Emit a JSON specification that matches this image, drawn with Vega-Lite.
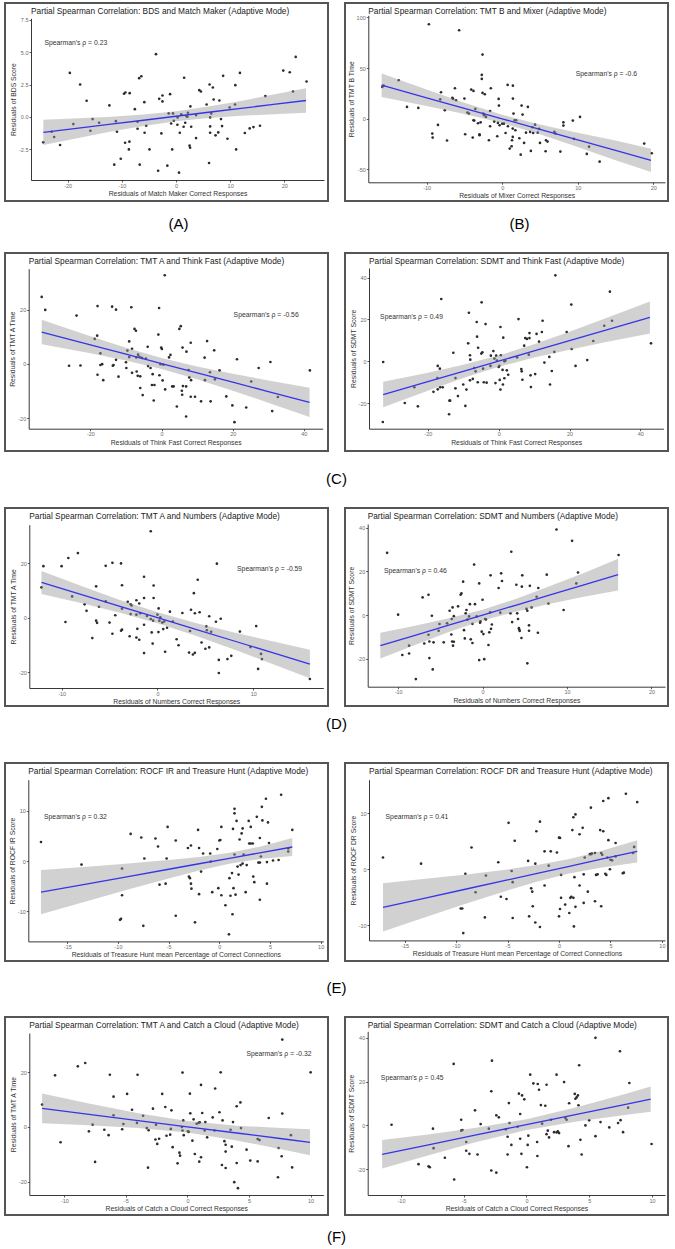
{
"$schema": "https://vega.github.io/schema/vega-lite/v6.json",
"padding": {"left": 4, "top": 2, "right": 0, "bottom": 0},
"background": "white",
"spacing": 20,
"config": {
 "view": {"stroke": "#555555", "strokeWidth": 2},
 "font": "Liberation Sans",
 "axis": {"grid": false, "domainColor": "#222222", "domainWidth": 0.9, "tickColor": "#333333", "tickWidth": 0.8, "tickSize": 2, "labelFont": "Liberation Sans", "labelFontSize": 5.5, "labelColor": "#6b6b6b", "labelPadding": 1, "labelFlush": false, "labelOverlap": false, "labelBound": false, "titleFont": "Liberation Sans", "titleFontSize": 6.8, "titleFontWeight": "normal", "titleColor": "#333333", "titlePadding": 2},
 "title": {"font": "Liberation Sans", "fontWeight": "normal", "color": "#222222"},
 "locale": {"number": {"decimal": ".", "thousands": ",", "grouping": [3], "currency": ["$", ""], "minus": "-"}}
},
"datasets": {
 "A": [{"x":-24.5,"y":-1.98},{"x":-22.95,"y":-1.16},{"x":-22.5,"y":-1.57},{"x":-21.4,"y":-2.19},{"x":-19.6,"y":3.4},{"x":-18.95,"y":-0.57},{"x":-17.7,"y":2.5},{"x":-16.5,"y":1.24},{"x":-15.8,"y":-1.08},{"x":-15.4,"y":-0.18},{"x":-14.2,"y":-0.46},{"x":-12.3,"y":0.88},{"x":-11.4,"y":-3.71},{"x":-11.1,"y":-0.34},{"x":-10.9,"y":-1.16},{"x":-10.2,"y":-3.25},{"x":-9.6,"y":1.78},{"x":-9.35,"y":1.88},{"x":-9.4,"y":-2.01},{"x":-8.6,"y":-1.93},{"x":-8.55,"y":1.83},{"x":-8.7,"y":-2.53},{"x":-7.6,"y":0.59},{"x":-7.1,"y":-0.39},{"x":-7.1,"y":-0.93},{"x":-6.8,"y":2.99},{"x":-6.4,"y":3.14},{"x":-6.7,"y":-3.71},{"x":-5.85,"y":1.13},{"x":-5.8,"y":-1.24},{"x":-5.5,"y":-0.7},{"x":-4.9,"y":-2.53},{"x":-3.7,"y":4.85},{"x":-3.3,"y":-4.18},{"x":-3.1,"y":1.39},{"x":-2.7,"y":-1.29},{"x":-2.5,"y":1.65},{"x":-2.5,"y":1.19},{"x":-1.6,"y":-3.79},{"x":-1.1,"y":1.75},{"x":-1.35,"y":0.26},{"x":-0.9,"y":-0.52},{"x":-0.7,"y":-2.53},{"x":-0.55,"y":0.26},{"x":-0.4,"y":-0.31},{"x":0.25,"y":-0.62},{"x":0.3,"y":-0.05},{"x":0.55,"y":-4.33},{"x":0.7,"y":-1.24},{"x":0.98,"y":0.18},{"x":1.4,"y":-0.77},{"x":1.5,"y":3.02},{"x":1.7,"y":-0.46},{"x":1.9,"y":0.05},{"x":2.1,"y":0},{"x":2.2,"y":0.31},{"x":2.5,"y":-2.24},{"x":2.6,"y":-2.4},{"x":2.65,"y":0.8},{"x":2.8,"y":-0.77},{"x":3.7,"y":0.13},{"x":3.7,"y":-1.65},{"x":4.3,"y":2.06},{"x":4.6,"y":1.96},{"x":5.65,"y":0.95},{"x":6.1,"y":-3.58},{"x":6.2,"y":2.5},{"x":6.3,"y":-0.05},{"x":6.3,"y":-0.75},{"x":6.3,"y":-1.24},{"x":6.5,"y":0.26},{"x":6.8,"y":2.27},{"x":6.95,"y":1.34},{"x":7.3,"y":-1.44},{"x":7.8,"y":-1.21},{"x":8.0,"y":1.26},{"x":8.3,"y":-0.18},{"x":8.5,"y":-0.72},{"x":8.7,"y":3.17},{"x":9.5,"y":-1.7},{"x":9.9,"y":0.72},{"x":10.9,"y":0.95},{"x":10.95,"y":2.45},{"x":11.1,"y":-2.53},{"x":11.8,"y":3.4},{"x":12.7,"y":-1.26},{"x":13.6,"y":-0.9},{"x":14.3,"y":-0.8},{"x":15.5,"y":-0.7},{"x":16.5,"y":1.6},{"x":19.8,"y":3.58},{"x":21.0,"y":3.45},{"x":21.6,"y":1.96},{"x":22.1,"y":4.64},{"x":24.1,"y":2.73}],
 "Aband": [{"x":-24.5,"lo":-2.18,"hi":-0.24,"fit":-1.21},{"x":-18,"lo":-1.64,"hi":-0.12,"fit":-0.88},{"x":-12,"lo":-1.15,"hi":0.01,"fit":-0.57},{"x":-6,"lo":-0.71,"hi":0.17,"fit":-0.27},{"x":0,"lo":-0.34,"hi":0.42,"fit":0.04},{"x":6,"lo":-0.09,"hi":0.79,"fit":0.35},{"x":12,"lo":0.07,"hi":1.23,"fit":0.65},{"x":18,"lo":0.2,"hi":1.72,"fit":0.96},{"x":24,"lo":0.31,"hi":2.21,"fit":1.26}],
 "B": [{"x":-15.87,"y":31.4},{"x":-15.7,"y":32.7},{"x":-13.7,"y":38.0},{"x":-12.6,"y":11.7},{"x":-11.1,"y":10.7},{"x":-9.7,"y":93.3},{"x":-9.25,"y":-14.6},{"x":-9.2,"y":-18.6},{"x":-8.5,"y":-6.1},{"x":-8.1,"y":26.2},{"x":-8.2,"y":19.2},{"x":-7.6,"y":8.4},{"x":-7.3,"y":-21.5},{"x":-6.6,"y":20.6},{"x":-6.5,"y":19.6},{"x":-6.25,"y":30.1},{"x":-6.1,"y":18.3},{"x":-5.7,"y":87.3},{"x":-5.0,"y":19.9},{"x":-4.9,"y":-15.3},{"x":-4.6,"y":6.1},{"x":-4.4,"y":5.1},{"x":-4.1,"y":28.8},{"x":-3.8,"y":27.5},{"x":-3.9,"y":-18.6},{"x":-3.8,"y":-1.5},{"x":-3.7,"y":-1.8},{"x":-3.55,"y":9.7},{"x":-3.2,"y":-4.4},{"x":-3.0,"y":-15.3},{"x":-3.0,"y":-16.3},{"x":-2.85,"y":-3.5},{"x":-2.7,"y":39.3},{"x":-2.7,"y":43.3},{"x":-2.6,"y":63.3},{"x":-2.6,"y":25.5},{"x":-2.5,"y":5.1},{"x":-2.4,"y":3.5},{"x":-2.3,"y":24.2},{"x":-2.15,"y":1.8},{"x":-1.75,"y":-21.2},{"x":-1.6,"y":-7.4},{"x":-1.5,"y":30.1},{"x":-1.6,"y":7.7},{"x":-1.05,"y":-2.8},{"x":-0.65,"y":-17.3},{"x":-0.56,"y":-4.1},{"x":-0.47,"y":19.6},{"x":-0.43,"y":13.0},{"x":-0.34,"y":-6.4},{"x":0.01,"y":-4.8},{"x":0.23,"y":-4.8},{"x":0.45,"y":-14.0},{"x":0.72,"y":33.4},{"x":0.76,"y":-7.4},{"x":1.0,"y":-29.4},{"x":1.25,"y":-27.1},{"x":1.3,"y":-21.2},{"x":1.4,"y":-17.9},{"x":1.42,"y":32.7},{"x":1.42,"y":19.9},{"x":1.4,"y":-9.7},{"x":1.5,"y":5.1},{"x":1.65,"y":-1.5},{"x":1.75,"y":-11.3},{"x":1.85,"y":-1.5},{"x":2.27,"y":-19.2},{"x":2.45,"y":-35.4},{"x":2.57,"y":13.0},{"x":2.7,"y":4.1},{"x":2.9,"y":-23.8},{"x":3.15,"y":-13.7},{"x":3.4,"y":11.7},{"x":3.7,"y":-13.0},{"x":3.8,"y":-31.7},{"x":4.0,"y":-8.4},{"x":4.1,"y":-14.0},{"x":4.35,"y":-5.8},{"x":4.7,"y":-13.7},{"x":4.9,"y":-10.0},{"x":5.0,"y":-23.8},{"x":5.75,"y":-32.1},{"x":5.8,"y":-21.2},{"x":6.0,"y":-22.5},{"x":6.9,"y":-13.0},{"x":7.05,"y":-14.6},{"x":7.7,"y":-32.4},{"x":8.1,"y":-3.5},{"x":8.1,"y":-6.7},{"x":9.35,"y":-1.8},{"x":9.5,"y":-19.9},{"x":10.3,"y":1.8},{"x":11.2,"y":-34.7},{"x":11.5,"y":-27.5},{"x":12.9,"y":-42.3},{"x":18.8,"y":-24.5},{"x":19.8,"y":-34.0}],
 "Bband": [{"x":-15.95,"lo":21.6,"hi":44.6,"fit":33.1},{"x":-10,"lo":12.7,"hi":28.8,"fit":20.73},{"x":-5,"lo":4.8,"hi":15.9,"fit":10.34},{"x":0,"lo":-4.1,"hi":4.0,"fit":-0.06},{"x":5,"lo":-15.2,"hi":-5.7,"fit":-10.45},{"x":10,"lo":-27.8,"hi":-13.9,"fit":-20.85},{"x":15,"lo":-41.0,"hi":-21.5,"fit":-31.24},{"x":19.7,"lo":-52.5,"hi":-29.5,"fit":-41.0}],
 "C1": [{"x":-33.7,"y":24.7},{"x":-32.7,"y":19.9},{"x":-26.0,"y":-0.7},{"x":-23.9,"y":17.8},{"x":-22.8,"y":-0.6},{"x":-18.8,"y":9.2},{"x":-18.1,"y":10.4},{"x":-18.0,"y":21.3},{"x":-18.0,"y":-4.0},{"x":-17.2,"y":3.9},{"x":-17.2,"y":-0.4},{"x":-16.7,"y":-0.1},{"x":-16.4,"y":-6.0},{"x":-13.9,"y":21.1},{"x":-13.7,"y":-0.7},{"x":-13.5,"y":-0.4},{"x":-12.8,"y":20.0},{"x":-12.8,"y":1.5},{"x":-12.1,"y":-4.7},{"x":-10.0,"y":0.6},{"x":-9.9,"y":-1.5},{"x":-9.6,"y":4.9},{"x":-9.1,"y":8.3},{"x":-9.1,"y":2.5},{"x":-8.5,"y":20.9},{"x":-8.3,"y":5.6},{"x":-8.3,"y":-3.3},{"x":-7.6,"y":12.9},{"x":-7.2,"y":12.2},{"x":-7.1,"y":2.4},{"x":-7.0,"y":-2.8},{"x":-6.7,"y":-4.4},{"x":-6.6,"y":3.4},{"x":-6.2,"y":2.6},{"x":-6.0,"y":-4.6},{"x":-6.0,"y":-8.9},{"x":-5.5,"y":2.2},{"x":-5.3,"y":-11.5},{"x":-4.4,"y":2.0},{"x":-3.9,"y":6.3},{"x":-3.8,"y":-0.8},{"x":-3.1,"y":-1.5},{"x":-2.7,"y":-7.8},{"x":-2.5,"y":-3.8},{"x":-2.0,"y":-7.8},{"x":-2.2,"y":-13.5},{"x":-0.9,"y":10.8},{"x":-0.7,"y":20.6},{"x":-0.6,"y":-4.2},{"x":-0.3,"y":-0.1},{"x":-0.1,"y":6.0},{"x":0.1,"y":5.5},{"x":0.3,"y":-6.1},{"x":0.5,"y":-0.3},{"x":0.9,"y":32.7},{"x":1.0,"y":-9.4},{"x":2.1,"y":2.4},{"x":2.5,"y":3.3},{"x":3.0,"y":-8.3},{"x":3.4,"y":-8.3},{"x":4.3,"y":-15.7},{"x":5.0,"y":12.9},{"x":5.4,"y":13.9},{"x":5.7,"y":-9.9},{"x":5.8,"y":-11.4},{"x":5.9,"y":6.0},{"x":6.0,"y":-8.2},{"x":6.9,"y":-8.3},{"x":7.0,"y":4.5},{"x":6.9,"y":-19.4},{"x":7.6,"y":-2.3},{"x":7.8,"y":-5.0},{"x":8.2,"y":7.8},{"x":8.2,"y":-12.1},{"x":8.3,"y":-6.0},{"x":9.4,"y":-12.1},{"x":11.1,"y":-13.8},{"x":12.1,"y":2.3},{"x":12.2,"y":-6.0},{"x":12.8,"y":8.4},{"x":13.6,"y":-3.1},{"x":13.8,"y":-13.8},{"x":14.8,"y":5.0},{"x":15.0,"y":-5.7},{"x":16.3,"y":-2.4},{"x":18.2,"y":-12.0},{"x":19.9,"y":-15.3},{"x":20.5,"y":-21.5},{"x":21.2,"y":1.7},{"x":23.8,"y":-16.1},{"x":25.2,"y":-6.5},{"x":27.3,"y":-1.5},{"x":30.6,"y":0.7},{"x":31.1,"y":-17.4},{"x":32.7,"y":-12.2},{"x":41.7,"y":-2.4}],
 "C1band": [{"x":-33.7,"lo":7.25,"hi":16.25,"fit":11.75},{"x":-20,"lo":3.91,"hi":10.15,"fit":7.03},{"x":-10,"lo":1.25,"hi":5.91,"fit":3.58},{"x":0,"lo":-1.86,"hi":2.14,"fit":0.14},{"x":10,"lo":-5.64,"hi":-0.98,"fit":-3.31},{"x":20,"lo":-9.87,"hi":-3.63,"fit":-6.75},{"x":30,"lo":-14.31,"hi":-6.09,"fit":-10.2},{"x":41.6,"lo":-19.56,"hi":-8.84,"fit":-14.2}],
 "C2": [{"x":-32.6,"y":-0.3},{"x":-32.7,"y":-29.0},{"x":-26.5,"y":-19.9},{"x":-23.8,"y":-12.4},{"x":-22.8,"y":-21.5},{"x":-18.4,"y":-14.6},{"x":-17.3,"y":-8.0},{"x":-17.2,"y":-2.2},{"x":-17.2,"y":-13.4},{"x":-16.6,"y":-3.5},{"x":-16.5,"y":-12.4},{"x":-16.2,"y":29.8},{"x":-15.8,"y":-12.4},{"x":-13.9,"y":-18.8},{"x":-13.7,"y":-18.8},{"x":-14.0,"y":-25.3},{"x":-12.8,"y":4.1},{"x":-12.2,"y":-12.9},{"x":-12.2,"y":-8.0},{"x":-11.5,"y":-16.6},{"x":-10.0,"y":-11.1},{"x":-9.4,"y":-21.3},{"x":-9.1,"y":-13.5},{"x":-8.6,"y":8.6},{"x":-8.4,"y":23.2},{"x":-8.1,"y":-9.1},{"x":-8.1,"y":2.9},{"x":-8.0,"y":0.8},{"x":-7.3,"y":-8.4},{"x":-6.9,"y":-3.2},{"x":-6.5,"y":-4.8},{"x":-6.2,"y":18.8},{"x":-6.1,"y":11.8},{"x":-5.8,"y":6.5},{"x":-5.9,"y":-10.0},{"x":-4.9,"y":3.7},{"x":-4.8,"y":28.2},{"x":-4.6,"y":4.3},{"x":-4.4,"y":-3.5},{"x":-4.2,"y":-10.0},{"x":-3.7,"y":17.8},{"x":-3.4,"y":-10.2},{"x":-2.3,"y":-2.2},{"x":-2.2,"y":2.7},{"x":-1.5,"y":4.9},{"x":-1.2,"y":1.3},{"x":-0.9,"y":-10.4},{"x":-0.7,"y":2.7},{"x":-0.5,"y":0.3},{"x":0,"y":-2.7},{"x":0.2,"y":-2.1},{"x":0.3,"y":-8.9},{"x":0.5,"y":16.4},{"x":0.5,"y":-13.5},{"x":0.6,"y":2.9},{"x":1.1,"y":-4.1},{"x":1.2,"y":-11.1},{"x":1.3,"y":11.3},{"x":1.6,"y":0},{"x":1.6,"y":-8.1},{"x":1.9,"y":0.3},{"x":2.3,"y":-4.3},{"x":2.7,"y":-6.4},{"x":5.2,"y":1.9},{"x":5.6,"y":20.2},{"x":6.4,"y":-3.7},{"x":6.5,"y":-4.8},{"x":6.7,"y":-8.8},{"x":7.2,"y":7.5},{"x":7.5,"y":11.1},{"x":8.0,"y":10.7},{"x":8.5,"y":3.2},{"x":8.7,"y":13.5},{"x":8.7,"y":11.1},{"x":9.0,"y":-6.7},{"x":9.1,"y":-12.3},{"x":10.3,"y":-6.1},{"x":10.7,"y":13.1},{"x":11.4,"y":9.4},{"x":12.2,"y":14.0},{"x":12.4,"y":19.4},{"x":12.9,"y":-0.6},{"x":14.5,"y":-11.1},{"x":14.3,"y":2.1},{"x":15.0,"y":-4.6},{"x":15.7,"y":4.5},{"x":16.0,"y":41.1},{"x":19.2,"y":14.0},{"x":20.5,"y":27.1},{"x":20.6,"y":5.9},{"x":21.7,"y":-2.2},{"x":25.0,"y":0.6},{"x":26.7,"y":9.7},{"x":29.8,"y":17.0},{"x":31.4,"y":33.3},{"x":32.0,"y":19.4},{"x":43.0,"y":8.6}],
 "C2band": [{"x":-32.6,"lo":-22.0,"hi":-9.8,"fit":-15.9},{"x":-20,"lo":-14.04,"hi":-5.42,"fit":-9.73},{"x":-10,"lo":-8.01,"hi":-1.65,"fit":-4.83},{"x":0,"lo":-2.63,"hi":2.77,"fit":0.07},{"x":10,"lo":1.79,"hi":8.15,"fit":4.97},{"x":20,"lo":5.56,"hi":14.18,"fit":9.87},{"x":30,"lo":9.06,"hi":20.48,"fit":14.77},{"x":42.7,"lo":13.35,"hi":28.65,"fit":21.0}],
 "D1": [{"x":-12.1,"y":11.2},{"x":-11.9,"y":19.0},{"x":-10.0,"y":19.0},{"x":-9.6,"y":-1.5},{"x":-9.3,"y":22.0},{"x":-8.9,"y":7.9},{"x":-8.3,"y":23.8},{"x":-7.6,"y":5.0},{"x":-7.4,"y":2.6},{"x":-6.8,"y":-7.4},{"x":-6.4,"y":11.6},{"x":-6.4,"y":-1.0},{"x":-6.3,"y":-1.8},{"x":-6.1,"y":4.1},{"x":-5.4,"y":19.1},{"x":-5.4,"y":6.1},{"x":-5.0,"y":-1.7},{"x":-4.7,"y":20.2},{"x":-4.7,"y":-5.8},{"x":-4.4,"y":1.0},{"x":-3.8,"y":20.0},{"x":-3.8,"y":-4.7},{"x":-3.7,"y":12.0},{"x":-3.7,"y":-4.3},{"x":-3.7,"y":3.4},{"x":-3.1,"y":5.9},{"x":-2.9,"y":-6.7},{"x":-2.8,"y":5.0},{"x":-2.7,"y":4.6},{"x":-2.8,"y":1.4},{"x":-2.2,"y":6.5},{"x":-2.2,"y":1.2},{"x":-2.2,"y":-7.2},{"x":-2.1,"y":-4.0},{"x":-1.9,"y":5.3},{"x":-1.9,"y":-8.0},{"x":-1.8,"y":1.7},{"x":-1.4,"y":7.3},{"x":-1.4,"y":-2.5},{"x":-1.4,"y":-12.9},{"x":-1.4,"y":15.1},{"x":-1.1,"y":0.7},{"x":-0.7,"y":31.8},{"x":-0.7,"y":-0.4},{"x":-0.6,"y":-5.3},{"x":-0.5,"y":-9.4},{"x":-0.4,"y":11.9},{"x":-0.4,"y":7.3},{"x":-0.45,"y":-1.0},{"x":0,"y":1.2},{"x":0.1,"y":-5.2},{"x":0.12,"y":3.5},{"x":0.2,"y":-1.0},{"x":0.3,"y":0.2},{"x":0.5,"y":-1.7},{"x":0.6,"y":-4.1},{"x":0.7,"y":-1.3},{"x":0.8,"y":-12.4},{"x":1.0,"y":-3.6},{"x":1.3,"y":2.3},{"x":1.6,"y":-1.3},{"x":2.0,"y":-7.8},{"x":2.2,"y":-10.0},{"x":2.6,"y":1.8},{"x":3.3,"y":-12.7},{"x":3.4,"y":-4.8},{"x":3.5,"y":3.0},{"x":3.7,"y":-13.4},{"x":3.9,"y":-12.8},{"x":3.8,"y":9.1},{"x":3.9,"y":1.7},{"x":4.2,"y":14.0},{"x":4.4,"y":2.1},{"x":4.6,"y":-9.0},{"x":5.1,"y":-3.1},{"x":5.0,"y":-11.3},{"x":5.15,"y":-4.5},{"x":5.4,"y":-10.8},{"x":5.4,"y":0.6},{"x":5.6,"y":-5.1},{"x":6.1,"y":-1.4},{"x":6.2,"y":19.9},{"x":6.4,"y":-20.2},{"x":6.4,"y":-15.4},{"x":6.6,"y":-0.3},{"x":7.3,"y":-15.1},{"x":7.7,"y":-13.9},{"x":8.6,"y":-5.0},{"x":9.7,"y":-10.7},{"x":10.3,"y":-3.0},{"x":10.5,"y":-18.7},{"x":10.8,"y":-13.2},{"x":10.9,"y":-15.1},{"x":15.9,"y":-22.4}],
 "D1band": [{"x":-12.1,"lo":8.8,"hi":17.2,"fit":13.0},{"x":-8,"lo":5.46,"hi":11.78,"fit":8.62},{"x":-4,"lo":2.01,"hi":6.69,"fit":4.35},{"x":0,"lo":-1.92,"hi":2.08,"fit":0.08},{"x":4,"lo":-6.53,"hi":-1.85,"fit":-4.19},{"x":8,"lo":-11.62,"hi":-5.3,"fit":-8.46},{"x":12,"lo":-16.9,"hi":-8.56,"fit":-12.73},{"x":15.9,"lo":-22.15,"hi":-11.65,"fit":-16.9}],
 "D2": [{"x":-11.3,"y":28.5},{"x":-10.0,"y":0.2},{"x":-9.5,"y":-18.3},{"x":-8.7,"y":-17.6},{"x":-8.7,"y":-14.0},{"x":-7.1,"y":8.1},{"x":-6.9,"y":-13.0},{"x":-6.4,"y":9.3},{"x":-6.4,"y":-9.0},{"x":-6.3,"y":-12.1},{"x":-6.3,"y":-19.7},{"x":-6.0,"y":-0.3},{"x":-5.9,"y":-24.9},{"x":-5.8,"y":-12.5},{"x":-5.2,"y":-7.2},{"x":-5.1,"y":-4.1},{"x":-4.6,"y":-12.5},{"x":-4.2,"y":-3.8},{"x":-3.9,"y":2.0},{"x":-3.7,"y":-8.9},{"x":-3.65,"y":-1.8},{"x":-3.6,"y":-12.1},{"x":-3.55,"y":3.5},{"x":-3.5,"y":-14.0},{"x":-3.4,"y":-12.2},{"x":-3.4,"y":-0.5},{"x":-2.9,"y":4.0},{"x":-2.6,"y":9.3},{"x":-2.5,"y":9.9},{"x":-2.3,"y":15.3},{"x":-2.2,"y":-6.9},{"x":-2.1,"y":-10.7},{"x":-2.0,"y":0.8},{"x":-1.9,"y":2.3},{"x":-1.8,"y":-2.1},{"x":-1.6,"y":-0.6},{"x":-1.5,"y":5.0},{"x":-1.4,"y":-11.1},{"x":-1.2,"y":-4.0},{"x":-1.2,"y":-12.8},{"x":-1.0,"y":23.1},{"x":-0.9,"y":5.0},{"x":-0.7,"y":-0.6},{"x":-0.4,"y":-20.6},{"x":-0.4,"y":14.5},{"x":-0.3,"y":-3.5},{"x":-0.25,"y":-2.9},{"x":-0.1,"y":-7.6},{"x":0,"y":7.0},{"x":0.1,"y":-8.7},{"x":0.2,"y":-20.2},{"x":0.3,"y":-1.8},{"x":0.4,"y":-2.0},{"x":0.7,"y":-13.7},{"x":0.8,"y":-7.9},{"x":0.9,"y":1.2},{"x":0.95,"y":18.2},{"x":1.0,"y":-6.3},{"x":1.1,"y":-4.3},{"x":1.9,"y":12.4},{"x":2.2,"y":19.1},{"x":2.3,"y":15.6},{"x":2.1,"y":1.1},{"x":3.3,"y":0.8},{"x":3.4,"y":29.0},{"x":3.5,"y":-3.2},{"x":4.0,"y":13.9},{"x":4.1,"y":0.8},{"x":4.2,"y":-1.8},{"x":4.3,"y":-6.0},{"x":4.35,"y":-6.7},{"x":4.4,"y":-7.3},{"x":4.6,"y":-10.5},{"x":4.65,"y":13.0},{"x":4.7,"y":18.2},{"x":5.2,"y":2.9},{"x":5.3,"y":2.0},{"x":5.3,"y":-22.1},{"x":5.5,"y":-4.7},{"x":5.6,"y":13.4},{"x":5.5,"y":-7.2},{"x":5.8,"y":3.5},{"x":6.4,"y":8.4},{"x":6.55,"y":-8.1},{"x":6.6,"y":12.4},{"x":7.6,"y":18.5},{"x":7.8,"y":5.3},{"x":8.75,"y":39.2},{"x":9.6,"y":2.3},{"x":10.6,"y":34.0},{"x":11.1,"y":14.5},{"x":11.3,"y":19.5},{"x":16.1,"y":27.5},{"x":-7.9,"y":-29.3}],
 "D2band": [{"x":-12.1,"lo":-19.9,"hi":-8.1,"fit":-14.0},{"x":-8,"lo":-13.66,"hi":-4.88,"fit":-9.27},{"x":-4,"lo":-7.8,"hi":-1.5,"fit":-4.65},{"x":0,"lo":-2.54,"hi":2.48,"fit":-0.03},{"x":4,"lo":1.68,"hi":7.5,"fit":4.59},{"x":8,"lo":5.16,"hi":13.26,"fit":9.21},{"x":12,"lo":8.34,"hi":19.3,"fit":13.82},{"x":16.05,"lo":11.2,"hi":25.8,"fit":18.5}],
 "E1": [{"x":-17.6,"y":3.8},{"x":-13.6,"y":-0.7},{"x":-9.6,"y":-1.5},{"x":-9.6,"y":-6.8},{"x":-8.75,"y":5.4},{"x":-7.7,"y":4.7},{"x":-7.4,"y":0.5},{"x":-6.3,"y":4.5},{"x":-6.05,"y":2.9},{"x":-5.9,"y":-4.7},{"x":-5.3,"y":-4.5},{"x":-5.2,"y":0.5},{"x":-5.1,"y":6.8},{"x":-4.3,"y":4.1},{"x":-3.1,"y":2.6},{"x":-3.0,"y":-3.1},{"x":-2.9,"y":-3.4},{"x":-2.8,"y":3.1},{"x":-2.8,"y":-4.5},{"x":-2.75,"y":-5.5},{"x":-2.1,"y":6.2},{"x":-2.0,"y":2.6},{"x":-1.8,"y":-2.1},{"x":-2.0,"y":-6.6},{"x":-1.6,"y":1.5},{"x":-0.9,"y":1.5},{"x":-0.85,"y":-0.1},{"x":-0.7,"y":-6.2},{"x":-0.2,"y":2.4},{"x":-0.1,"y":-5.4},{"x":0,"y":4.1},{"x":0.1,"y":4.2},{"x":0.2,"y":6.8},{"x":0.2,"y":-6.8},{"x":1.0,"y":-3.4},{"x":1.1,"y":-6.9},{"x":1.25,"y":-2.4},{"x":1.35,"y":6.4},{"x":1.5,"y":10.4},{"x":1.5,"y":9.5},{"x":1.5,"y":1.3},{"x":1.4,"y":-5.4},{"x":1.6,"y":-6.7},{"x":1.7,"y":8.0},{"x":1.8,"y":-1.1},{"x":1.9,"y":-2.7},{"x":2.0,"y":4.3},{"x":2.1,"y":-0.8},{"x":2.2,"y":5.5},{"x":2.3,"y":-0.5},{"x":2.3,"y":6.5},{"x":2.4,"y":1.3},{"x":2.6,"y":-6.2},{"x":2.7,"y":-0.8},{"x":2.9,"y":8.0},{"x":2.95,"y":3.5},{"x":3.1,"y":6.8},{"x":3.1,"y":3.5},{"x":3.3,"y":3.5},{"x":3.35,"y":-3.1},{"x":3.45,"y":-4.2},{"x":3.7,"y":8.8},{"x":3.85,"y":-0.3},{"x":4.0,"y":-0.3},{"x":4.0,"y":4.6},{"x":4.1,"y":0.9},{"x":4.2,"y":10.8},{"x":4.25,"y":8.1},{"x":4.6,"y":12.4},{"x":4.7,"y":-4.5},{"x":4.8,"y":7.7},{"x":4.7,"y":-0.2},{"x":4.9,"y":3.6},{"x":5.3,"y":0.1},{"x":5.85,"y":0.2},{"x":6.1,"y":13.2},{"x":6.8,"y":2.5},{"x":6.8,"y":1.9},{"x":7.2,"y":6.2},{"x":-9.8,"y":-11.7},{"x":-9.7,"y":-11.5},{"x":-7.5,"y":-12.9},{"x":-4.3,"y":-10.9},{"x":-2.4,"y":-12.2},{"x":0.6,"y":-8.8},{"x":0.95,"y":-14.6},{"x":1.3,"y":-10.6},{"x":4.0,"y":-7.7}],
 "E1band": [{"x":-17.6,"lo":-10.6,"hi":-1.8,"fit":-6.2},{"x":-13,"lo":-7.95,"hi":-1.11,"fit":-4.53},{"x":-9,"lo":-5.67,"hi":-0.49,"fit":-3.08},{"x":-5,"lo":-3.45,"hi":0.19,"fit":-1.63},{"x":-2,"lo":-1.89,"hi":0.81,"fit":-0.54},{"x":1,"lo":-0.56,"hi":1.66,"fit":0.55},{"x":4,"lo":0.41,"hi":2.87,"fit":1.64},{"x":7.2,"lo":1.0,"hi":4.6,"fit":2.8}],
 "E2": [{"x":-17.1,"y":2.1},{"x":-13.4,"y":1.0},{"x":-9.1,"y":-0.8},{"x":-8.5,"y":3.9},{"x":-8.1,"y":-4.1},{"x":-7.1,"y":-1.1},{"x":-5.9,"y":1.25},{"x":-5.65,"y":-4.9},{"x":-5.1,"y":-5.3},{"x":-4.9,"y":8.3},{"x":-4.6,"y":-0.3},{"x":-4.5,"y":-2.3},{"x":-4.3,"y":5.1},{"x":-3.0,"y":1.5},{"x":-2.7,"y":-3.4},{"x":-2.6,"y":-4.0},{"x":-2.3,"y":1.0},{"x":-2.2,"y":6.8},{"x":-1.85,"y":8.5},{"x":-1.4,"y":3.2},{"x":-1.4,"y":-2.9},{"x":-1.0,"y":0.65},{"x":-0.8,"y":3.2},{"x":0,"y":5.65},{"x":0.1,"y":5.6},{"x":-0.2,"y":3.0},{"x":0.2,"y":-1.0},{"x":0.2,"y":-5.1},{"x":1.1,"y":-5.1},{"x":1.2,"y":-4.9},{"x":1.4,"y":-5.1},{"x":1.5,"y":-1.4},{"x":1.3,"y":7.0},{"x":1.4,"y":9.3},{"x":1.6,"y":9.8},{"x":2.0,"y":-2.9},{"x":2.0,"y":6.25},{"x":2.3,"y":7.4},{"x":2.4,"y":-0.9},{"x":2.5,"y":2.1},{"x":2.8,"y":-4.0},{"x":3.0,"y":2.7},{"x":3.1,"y":2.7},{"x":3.2,"y":2.8},{"x":3.1,"y":11.0},{"x":3.5,"y":2.9},{"x":3.6,"y":-1.0},{"x":3.75,"y":-0.9},{"x":4.0,"y":7.0},{"x":4.1,"y":2.9},{"x":4.2,"y":2.6},{"x":4.3,"y":6.8},{"x":4.3,"y":12.2},{"x":4.5,"y":-0.8},{"x":4.6,"y":-1.0},{"x":4.7,"y":2.1},{"x":4.8,"y":12.7},{"x":4.8,"y":5.2},{"x":4.95,"y":0},{"x":5.0,"y":1.7},{"x":5.15,"y":1.6},{"x":5.5,"y":2.3},{"x":5.5,"y":4.7},{"x":6.2,"y":-0.7},{"x":6.3,"y":-0.6},{"x":6.5,"y":13.5},{"x":7.2,"y":2.9},{"x":7.3,"y":4.0},{"x":7.6,"y":12.0},{"x":-9.55,"y":-7.0},{"x":-9.4,"y":-7.0},{"x":-9.3,"y":-11.4},{"x":-7.2,"y":-8.6},{"x":-4.5,"y":-8.7},{"x":-2.9,"y":-8.4},{"x":-2.55,"y":-6.6},{"x":-2.3,"y":-9.5},{"x":-1.85,"y":-10.3},{"x":0,"y":-8.4},{"x":0.1,"y":-7.1},{"x":0.6,"y":-6.3},{"x":1.0,"y":-7.8},{"x":1.45,"y":-10.2},{"x":1.6,"y":-6.7},{"x":2.4,"y":-6.0},{"x":4.1,"y":-6.6},{"x":3.5,"y":-5.7}],
 "E2band": [{"x":-17.1,"lo":-11.1,"hi":-2.5,"fit":-6.8},{"x":-13,"lo":-8.57,"hi":-1.71,"fit":-5.14},{"x":-9,"lo":-6.13,"hi":-0.91,"fit":-3.52},{"x":-5,"lo":-3.78,"hi":-0.02,"fit":-1.9},{"x":-2,"lo":-2.15,"hi":0.79,"fit":-0.68},{"x":1,"lo":-0.77,"hi":1.83,"fit":0.53},{"x":4,"lo":0.28,"hi":3.22,"fit":1.75},{"x":7.6,"lo":1.22,"hi":5.18,"fit":3.2}],
 "F1": [{"x":-11.8,"y":8.2},{"x":-10.75,"y":18.9},{"x":-10.3,"y":-5.6},{"x":-8.9,"y":22.2},{"x":-8.3,"y":23.4},{"x":-8.0,"y":-1.6},{"x":-7.7,"y":0.85},{"x":-6.75,"y":-1.0},{"x":-6.4,"y":-3.0},{"x":-6.3,"y":19.1},{"x":-6.0,"y":11.1},{"x":-6.0,"y":4.3},{"x":-5.3,"y":-0.85},{"x":-5.2,"y":1.1},{"x":-4.9,"y":12.1},{"x":-4.5,"y":6.3},{"x":-4.1,"y":1.5},{"x":-4.05,"y":19.1},{"x":-3.6,"y":4.1},{"x":-3.3,"y":-0.4},{"x":-3.15,"y":-1.2},{"x":-2.8,"y":6.7},{"x":-2.6,"y":-4.6},{"x":-2.55,"y":0.85},{"x":-2.45,"y":-6.2},{"x":-2.3,"y":-4.3},{"x":-2.05,"y":12.1},{"x":-1.8,"y":7.3},{"x":-1.7,"y":-3.2},{"x":-1.4,"y":-2.8},{"x":-1.35,"y":-0.7},{"x":-1.3,"y":6.1},{"x":-1.2,"y":-7.4},{"x":-0.45,"y":0},{"x":-0.4,"y":-1.3},{"x":-0.4,"y":19.9},{"x":-0.34,"y":2.4},{"x":-0.3,"y":-3.0},{"x":0.04,"y":-1.6},{"x":0.1,"y":-1.8},{"x":0.2,"y":12.2},{"x":0.23,"y":5.0},{"x":0.4,"y":-5.0},{"x":0.5,"y":2.8},{"x":0.75,"y":1.2},{"x":0.9,"y":1.5},{"x":1.0,"y":1.7},{"x":1.1,"y":15.4},{"x":1.2,"y":5.1},{"x":1.4,"y":-1.3},{"x":1.45,"y":1.8},{"x":1.6,"y":-3.8},{"x":2.05,"y":3.5},{"x":2.2,"y":-1.3},{"x":2.25,"y":14.1},{"x":2.6,"y":5.4},{"x":2.7,"y":20.0},{"x":2.85,"y":2.4},{"x":3.0,"y":-5.2},{"x":3.1,"y":-6.5},{"x":3.5,"y":-1.0},{"x":3.7,"y":1.8},{"x":4.0,"y":7.6},{"x":4.3,"y":9.0},{"x":4.35,"y":-0.4},{"x":4.8,"y":-8.3},{"x":5.7,"y":-4.4},{"x":5.85,"y":-4.8},{"x":6.6,"y":3.3},{"x":7.7,"y":4.9},{"x":7.7,"y":32.0},{"x":8.4,"y":-3.0},{"x":10.0,"y":20.0},{"x":-7.5,"y":-12.8},{"x":-3.2,"y":-14.9},{"x":-0.8,"y":-13.3},{"x":-0.6,"y":-10.5},{"x":-0.65,"y":-9.4},{"x":0.6,"y":-9.9},{"x":0.96,"y":-12.7},{"x":1.1,"y":-11.1},{"x":2.8,"y":-13.9},{"x":3.1,"y":-15.0},{"x":4.0,"y":-13.2},{"x":3.8,"y":-20.2},{"x":4.1,"y":-22.4},{"x":5.1,"y":-12.3},{"x":5.7,"y":-12.6},{"x":7.35,"y":-18.4},{"x":7.65,"y":-10.7},{"x":8.5,"y":-14.8},{"x":7.4,"y":-7.7},{"x":3.6,"y":-7.2},{"x":3.1,"y":-9.0}],
 "F1band": [{"x":-11.8,"lo":1.35,"hi":12.25,"fit":6.8},{"x":-8,"lo":0.63,"hi":8.63,"fit":4.63},{"x":-4,"lo":-0.35,"hi":5.05,"fit":2.35},{"x":0,"lo":-2.03,"hi":2.17,"fit":0.07},{"x":4,"lo":-4.91,"hi":0.49,"fit":-2.21},{"x":8,"lo":-8.49,"hi":-0.49,"fit":-4.49},{"x":9.95,"lo":-10.33,"hi":-0.87,"fit":-5.6}],
 "F2": [{"x":-10.75,"y":0.3},{"x":-7.45,"y":-1.5},{"x":-7.4,"y":-10.4},{"x":-5.8,"y":28.1},{"x":-5.2,"y":-2.4},{"x":-5.1,"y":-2.1},{"x":-4.8,"y":-7.6},{"x":-5.2,"y":2.6},{"x":-4.8,"y":-11.6},{"x":-4.1,"y":6.9},{"x":-3.65,"y":0.6},{"x":-3.0,"y":-1.5},{"x":-2.8,"y":15.6},{"x":-2.75,"y":29.6},{"x":-2.4,"y":4.6},{"x":-2.2,"y":3.7},{"x":-1.65,"y":-1.8},{"x":-1.5,"y":-5.2},{"x":-1.4,"y":10.2},{"x":-1.35,"y":1.1},{"x":-1.2,"y":-8.9},{"x":-0.7,"y":-0.6},{"x":-0.5,"y":5.2},{"x":-0.5,"y":-6.1},{"x":-0.6,"y":14.5},{"x":-0.35,"y":13.7},{"x":-0.17,"y":11.9},{"x":0.1,"y":-8.9},{"x":0.15,"y":-4.7},{"x":0.3,"y":23.2},{"x":0.55,"y":19.2},{"x":0.85,"y":-7.6},{"x":0.9,"y":18.9},{"x":1.0,"y":16.3},{"x":1.15,"y":9.3},{"x":1.25,"y":0.8},{"x":1.5,"y":9.0},{"x":1.6,"y":18.6},{"x":1.6,"y":-4.0},{"x":1.7,"y":-2.4},{"x":1.8,"y":-5.5},{"x":1.95,"y":2.6},{"x":2.2,"y":-3.1},{"x":2.4,"y":23.2},{"x":2.4,"y":-3.2},{"x":2.5,"y":-2.7},{"x":2.6,"y":-3.5},{"x":3.0,"y":19.8},{"x":3.1,"y":3.4},{"x":3.2,"y":2.6},{"x":3.35,"y":-9.5},{"x":3.4,"y":10.1},{"x":3.85,"y":14.4},{"x":3.9,"y":12.2},{"x":4.0,"y":12.8},{"x":4.1,"y":13.7},{"x":4.15,"y":9.2},{"x":4.2,"y":27.5},{"x":4.3,"y":-6.6},{"x":4.7,"y":0},{"x":5.0,"y":2.3},{"x":5.5,"y":-4.9},{"x":5.9,"y":1.5},{"x":6.6,"y":-0.9},{"x":7.3,"y":1.1},{"x":7.45,"y":33.9},{"x":7.5,"y":2.4},{"x":7.7,"y":-3.1},{"x":8.1,"y":8.1},{"x":8.2,"y":19.4},{"x":9.97,"y":-8.5},{"x":5.5,"y":40.0},{"x":-8.6,"y":-17.7},{"x":-7.8,"y":-18.7},{"x":-7.7,"y":-19.1},{"x":-5.76,"y":-24.7},{"x":-2.8,"y":-20.6},{"x":-2.4,"y":-21.6},{"x":0.04,"y":-19.1},{"x":-6.5,"y":-14.8},{"x":-4.55,"y":-13.0},{"x":-3.9,"y":-13.3},{"x":-1.5,"y":-13.3},{"x":-0.4,"y":-13.0},{"x":0.87,"y":-14.0},{"x":4.4,"y":-13.3}],
 "F2band": [{"x":-11.5,"lo":-19.7,"hi":-6.7,"fit":-13.2},{"x":-8,"lo":-13.94,"hi":-4.22,"fit":-9.08},{"x":-4,"lo":-7.63,"hi":-1.11,"fit":-4.37},{"x":0,"lo":-2.15,"hi":2.85,"fit":0.35},{"x":4,"lo":1.8,"hi":8.32,"fit":5.06},{"x":8,"lo":4.91,"hi":14.63,"fit":9.77},{"x":9.9,"lo":6.26,"hi":17.74,"fit":12.0}]
},
"vconcat": [
 {"hconcat": [
  {"vconcat": [
   {"width": 323, "height": 198,
    "title": {"text": "Partial Spearman Correlation: BDS and Match Maker (Adaptive Mode)", "anchor": "start", "frame": "group", "dx": 26, "offset": -19, "baseline": "alphabetic", "fontSize": 8.3},
    "layer": [
     {"data": {"name": "A"}, "mark": {"type": "circle", "size": 7, "color": "#2b2b2b", "opacity": 1},
      "encoding": {
       "x": {"field": "x", "type": "quantitative", "scale": {"domain": [-26.77, 27.32], "range": [26, 319], "nice": false, "zero": false}, "axis": {"title": "Residuals of Match Maker Correct Responses", "values": [-20, -10, 0, 10, 20], "format": "d", "offset": -21}},
       "y": {"field": "y", "type": "quantitative", "scale": {"domain": [-4.9, 7.63], "range": [177, 15.3], "nice": false, "zero": false}, "axis": {"title": "Residuals of BDS Score", "values": [-2.5, 0, 2.5, 5, 7.5], "format": ".1f", "offset": -26}}}},
     {"data": {"name": "Aband"}, "mark": {"type": "area", "color": "#999999", "opacity": 0.45}, "encoding": {"x": {"field": "x", "type": "quantitative"}, "y": {"field": "lo", "type": "quantitative"}, "y2": {"field": "hi"}}},
     {"data": {"name": "Aband"}, "mark": {"type": "line", "color": "#3535e8", "strokeWidth": 1.3}, "encoding": {"x": {"field": "x", "type": "quantitative"}, "y": {"field": "fit", "type": "quantitative"}}},
     {"data": {"values": [{"label": "Spearman's ρ = 0.23"}]}, "mark": {"type": "text", "fontSize": 6.8, "color": "#333333"}, "encoding": {"x": {"datum": -18.5, "type": "quantitative"}, "y": {"datum": 5.72, "type": "quantitative"}, "text": {"field": "label"}}}
    ]}
  ], "title": {"text": "(A)", "orient": "bottom", "anchor": "middle", "offset": 15, "dx": 12, "baseline": "top", "fontSize": 15, "color": "#000000"}},
  {"vconcat": [
   {"width": 323, "height": 198,
    "title": {"text": "Partial Spearman Correlation: TMT B and Mixer (Adaptive Mode)", "anchor": "start", "frame": "group", "dx": 23.3, "offset": -19, "baseline": "alphabetic", "fontSize": 8.3},
    "layer": [
     {"data": {"name": "B"}, "mark": {"type": "circle", "size": 7, "color": "#2b2b2b", "opacity": 1},
      "encoding": {
       "x": {"field": "x", "type": "quantitative", "scale": {"domain": [-17.72, 21.55], "range": [23.3, 320], "nice": false, "zero": false}, "axis": {"title": "Residuals of Mixer Correct Responses", "values": [-10, 0, 10, 20], "format": "d", "offset": -18.7}},
       "y": {"field": "y", "type": "quantitative", "scale": {"domain": [-62.7, 102.1], "range": [179.3, 12.3], "nice": false, "zero": false}, "axis": {"title": "Residuals of TMT B Time", "values": [-50, 0, 50, 100], "format": "d", "offset": -23.3}}}},
     {"data": {"name": "Bband"}, "mark": {"type": "area", "color": "#999999", "opacity": 0.45}, "encoding": {"x": {"field": "x", "type": "quantitative"}, "y": {"field": "lo", "type": "quantitative"}, "y2": {"field": "hi"}}},
     {"data": {"name": "Bband"}, "mark": {"type": "line", "color": "#3535e8", "strokeWidth": 1.3}, "encoding": {"x": {"field": "x", "type": "quantitative"}, "y": {"field": "fit", "type": "quantitative"}}},
     {"data": {"values": [{"label": "Spearman's ρ = -0.6"}]}, "mark": {"type": "text", "fontSize": 6.8, "color": "#333333"}, "encoding": {"x": {"datum": 13.8, "type": "quantitative"}, "y": {"datum": 44.6, "type": "quantitative"}, "text": {"field": "label"}}}
    ]}
  ], "title": {"text": "(B)", "orient": "bottom", "anchor": "middle", "offset": 15, "dx": 13, "baseline": "top", "fontSize": 15, "color": "#000000"}}
 ], "spacing": 15},
 {"hconcat": [
   {"width": 323, "height": 198,
    "title": {"text": "Partial Spearman Correlation: TMT A and Think Fast (Adaptive Mode)", "anchor": "start", "frame": "group", "dx": 23.7, "offset": -19, "baseline": "alphabetic", "fontSize": 8.3},
    "layer": [
     {"data": {"name": "C1"}, "mark": {"type": "circle", "size": 7, "color": "#2b2b2b", "opacity": 1},
      "encoding": {
       "x": {"field": "x", "type": "quantitative", "scale": {"domain": [-37.35, 45.3], "range": [23.7, 317.7], "nice": false, "zero": false}, "axis": {"title": "Residuals of Think Fast Correct Responses", "values": [-20, 0, 20, 40], "format": "d", "offset": -22.3}},
       "y": {"field": "y", "type": "quantitative", "scale": {"domain": [-23.9, 35.1], "range": [175.7, 15.7], "nice": false, "zero": false}, "axis": {"title": "Residuals of TMT A Time", "values": [-20, 0, 20], "format": "d", "offset": -23.7}}}},
     {"data": {"name": "C1band"}, "mark": {"type": "area", "color": "#999999", "opacity": 0.45}, "encoding": {"x": {"field": "x", "type": "quantitative"}, "y": {"field": "lo", "type": "quantitative"}, "y2": {"field": "hi"}}},
     {"data": {"name": "C1band"}, "mark": {"type": "line", "color": "#3535e8", "strokeWidth": 1.3}, "encoding": {"x": {"field": "x", "type": "quantitative"}, "y": {"field": "fit", "type": "quantitative"}}},
     {"data": {"values": [{"label": "Spearman's ρ = -0.56"}]}, "mark": {"type": "text", "fontSize": 6.8, "color": "#333333"}, "encoding": {"x": {"datum": 29.4, "type": "quantitative"}, "y": {"datum": 17.9, "type": "quantitative"}, "text": {"field": "label"}}}
    ]},
   {"width": 323, "height": 198,
    "title": {"text": "Partial Spearman Correlation: SDMT and Think Fast (Adaptive Mode)", "anchor": "start", "frame": "group", "dx": 24, "offset": -19, "baseline": "alphabetic", "fontSize": 8.3},
    "layer": [
     {"data": {"name": "C2"}, "mark": {"type": "circle", "size": 7, "color": "#2b2b2b", "opacity": 1},
      "encoding": {
       "x": {"field": "x", "type": "quantitative", "scale": {"domain": [-36.6, 46.5], "range": [24, 318.4], "nice": false, "zero": false}, "axis": {"title": "Residuals of Think Fast Correct Responses", "values": [-20, 0, 20, 40], "format": "d", "offset": -22.3}},
       "y": {"field": "y", "type": "quantitative", "scale": {"domain": [-32.2, 44.6], "range": [175.7, 15], "nice": false, "zero": false}, "axis": {"title": "Residuals of SDMT Score", "values": [-20, 0, 20, 40], "format": "d", "offset": -24}}}},
     {"data": {"name": "C2band"}, "mark": {"type": "area", "color": "#999999", "opacity": 0.45}, "encoding": {"x": {"field": "x", "type": "quantitative"}, "y": {"field": "lo", "type": "quantitative"}, "y2": {"field": "hi"}}},
     {"data": {"name": "C2band"}, "mark": {"type": "line", "color": "#3535e8", "strokeWidth": 1.3}, "encoding": {"x": {"field": "x", "type": "quantitative"}, "y": {"field": "fit", "type": "quantitative"}}},
     {"data": {"values": [{"label": "Spearman's ρ = 0.49"}]}, "mark": {"type": "text", "fontSize": 6.8, "color": "#333333"}, "encoding": {"x": {"datum": -24.6, "type": "quantitative"}, "y": {"datum": 21.0, "type": "quantitative"}, "text": {"field": "label"}}}
    ]}
 ], "spacing": 15, "title": {"text": "(C)", "orient": "bottom", "anchor": "middle", "offset": 20, "baseline": "top", "fontSize": 15, "color": "#000000"}},
 {"hconcat": [
   {"width": 323, "height": 198,
    "title": {"text": "Partial Spearman Correlation: TMT A and Numbers (Adaptive Mode)", "anchor": "start", "frame": "group", "dx": 24.3, "offset": -19, "baseline": "alphabetic", "fontSize": 8.3},
    "layer": [
     {"data": {"name": "D1"}, "mark": {"type": "circle", "size": 7, "color": "#2b2b2b", "opacity": 1},
      "encoding": {
       "x": {"field": "x", "type": "quantitative", "scale": {"domain": [-13.37, 17.3], "range": [24.3, 318.3], "nice": false, "zero": false}, "axis": {"title": "Residuals of Numbers Correct Responses", "values": [-10, 0, 10], "format": "d", "offset": -18}},
       "y": {"field": "y", "type": "quantitative", "scale": {"domain": [-25.7, 34.2], "range": [180, 16.7], "nice": false, "zero": false}, "axis": {"title": "Residuals of TMT A Time", "values": [-20, 0, 20], "format": "d", "offset": -24.3}}}},
     {"data": {"name": "D1band"}, "mark": {"type": "area", "color": "#999999", "opacity": 0.45}, "encoding": {"x": {"field": "x", "type": "quantitative"}, "y": {"field": "lo", "type": "quantitative"}, "y2": {"field": "hi"}}},
     {"data": {"name": "D1band"}, "mark": {"type": "line", "color": "#3535e8", "strokeWidth": 1.3}, "encoding": {"x": {"field": "x", "type": "quantitative"}, "y": {"field": "fit", "type": "quantitative"}}},
     {"data": {"values": [{"label": "Spearman's ρ = -0.59"}]}, "mark": {"type": "text", "fontSize": 6.8, "color": "#333333"}, "encoding": {"x": {"datum": 11.7, "type": "quantitative"}, "y": {"datum": 17.9, "type": "quantitative"}, "text": {"field": "label"}}}
    ]},
   {"width": 323, "height": 198,
    "title": {"text": "Partial Spearman Correlation: SDMT and Numbers (Adaptive Mode)", "anchor": "start", "frame": "group", "dx": 22.7, "offset": -19, "baseline": "alphabetic", "fontSize": 8.3},
    "layer": [
     {"data": {"name": "D2"}, "mark": {"type": "circle", "size": 7, "color": "#2b2b2b", "opacity": 1},
      "encoding": {
       "x": {"field": "x", "type": "quantitative", "scale": {"domain": [-13.6, 21.6], "range": [22.7, 320], "nice": false, "zero": false}, "axis": {"title": "Residuals of Numbers Correct Responses", "values": [-10, 0, 10, 20], "format": "d", "offset": -19.3}},
       "y": {"field": "y", "type": "quantitative", "scale": {"domain": [-32.8, 41.7], "range": [178.7, 16], "nice": false, "zero": false}, "axis": {"title": "Residuals of SDMT Score", "values": [-20, 0, 20, 40], "format": "d", "offset": -22.7}}}},
     {"data": {"name": "D2band"}, "mark": {"type": "area", "color": "#999999", "opacity": 0.45}, "encoding": {"x": {"field": "x", "type": "quantitative"}, "y": {"field": "lo", "type": "quantitative"}, "y2": {"field": "hi"}}},
     {"data": {"name": "D2band"}, "mark": {"type": "line", "color": "#3535e8", "strokeWidth": 1.3}, "encoding": {"x": {"field": "x", "type": "quantitative"}, "y": {"field": "fit", "type": "quantitative"}}},
     {"data": {"values": [{"label": "Spearman's ρ = 0.46"}]}, "mark": {"type": "text", "fontSize": 6.8, "color": "#333333"}, "encoding": {"x": {"datum": -7.95, "type": "quantitative"}, "y": {"datum": 20.3, "type": "quantitative"}, "text": {"field": "label"}}}
    ]}
 ], "spacing": 15, "title": {"text": "(D)", "orient": "bottom", "anchor": "middle", "offset": 10, "baseline": "top", "fontSize": 15, "color": "#000000", "subtitle": " ", "subtitleFontSize": 10, "subtitlePadding": 0}},
 {"hconcat": [
   {"width": 323, "height": 198,
    "title": {"text": "Partial Spearman Correlation: ROCF IR and Treasure Hunt (Adaptive Mode)", "anchor": "start", "frame": "group", "dx": 23.3, "offset": -19, "baseline": "alphabetic", "fontSize": 8.3},
    "layer": [
     {"data": {"name": "E1"}, "mark": {"type": "circle", "size": 7, "color": "#2b2b2b", "opacity": 1},
      "encoding": {
       "x": {"field": "x", "type": "quantitative", "scale": {"domain": [-18.85, 10.26], "range": [23.3, 318.3], "nice": false, "zero": false}, "axis": {"title": "Residuals of Treasure Hunt mean Percentage of Correct Connections", "values": [-15, -10, -5, 0, 5, 10], "format": "d", "offset": -19.6}},
       "y": {"field": "y", "type": "quantitative", "scale": {"domain": [-16.0, 16.2], "range": [178.4, 16.7], "nice": false, "zero": false}, "axis": {"title": "Residuals of ROCF IR Score", "values": [-10, 0, 10], "format": "d", "offset": -23.3}}}},
     {"data": {"name": "E1band"}, "mark": {"type": "area", "color": "#999999", "opacity": 0.45}, "encoding": {"x": {"field": "x", "type": "quantitative"}, "y": {"field": "lo", "type": "quantitative"}, "y2": {"field": "hi"}}},
     {"data": {"name": "E1band"}, "mark": {"type": "line", "color": "#3535e8", "strokeWidth": 1.3}, "encoding": {"x": {"field": "x", "type": "quantitative"}, "y": {"field": "fit", "type": "quantitative"}}},
     {"data": {"values": [{"label": "Spearman's ρ = 0.32"}]}, "mark": {"type": "text", "fontSize": 6.8, "color": "#333333"}, "encoding": {"x": {"datum": -14.2, "type": "quantitative"}, "y": {"datum": 8.8, "type": "quantitative"}, "text": {"field": "label"}}}
    ]},
   {"width": 323, "height": 198,
    "title": {"text": "Partial Spearman Correlation: ROCF DR and Treasure Hunt (Adaptive Mode)", "anchor": "start", "frame": "group", "dx": 24, "offset": -19, "baseline": "alphabetic", "fontSize": 8.3},
    "layer": [
     {"data": {"name": "E2"}, "mark": {"type": "circle", "size": 7, "color": "#2b2b2b", "opacity": 1},
      "encoding": {
       "x": {"field": "x", "type": "quantitative", "scale": {"domain": [-18.46, 10.3], "range": [24, 320], "nice": false, "zero": false}, "axis": {"title": "Residuals of Treasure Hunt mean Percentage of Correct Connections", "values": [-15, -10, -5, 0, 5, 10], "format": "d", "offset": -20.6}},
       "y": {"field": "y", "type": "quantitative", "scale": {"domain": [-12.7, 16.0], "range": [177.4, 16.7], "nice": false, "zero": false}, "axis": {"title": "Residuals of ROCF DR Score", "values": [-10, 0, 10], "format": "d", "offset": -24}}}},
     {"data": {"name": "E2band"}, "mark": {"type": "area", "color": "#999999", "opacity": 0.45}, "encoding": {"x": {"field": "x", "type": "quantitative"}, "y": {"field": "lo", "type": "quantitative"}, "y2": {"field": "hi"}}},
     {"data": {"name": "E2band"}, "mark": {"type": "line", "color": "#3535e8", "strokeWidth": 1.3}, "encoding": {"x": {"field": "x", "type": "quantitative"}, "y": {"field": "fit", "type": "quantitative"}}},
     {"data": {"values": [{"label": "Spearman's ρ = 0.41"}]}, "mark": {"type": "text", "fontSize": 6.8, "color": "#333333"}, "encoding": {"x": {"datum": -13.8, "type": "quantitative"}, "y": {"datum": 9.4, "type": "quantitative"}, "text": {"field": "label"}}}
    ]}
 ], "spacing": 15, "title": {"text": "(E)", "orient": "bottom", "anchor": "middle", "offset": 19, "baseline": "top", "fontSize": 15, "color": "#000000"}},
 {"hconcat": [
   {"width": 323, "height": 198,
    "title": {"text": "Partial Spearman Correlation: TMT A and Catch a Cloud (Adaptive Mode)", "anchor": "start", "frame": "group", "dx": 24.3, "offset": -19, "baseline": "alphabetic", "fontSize": 8.3},
    "layer": [
     {"data": {"name": "F1"}, "mark": {"type": "circle", "size": 7, "color": "#2b2b2b", "opacity": 1},
      "encoding": {
       "x": {"field": "x", "type": "quantitative", "scale": {"domain": [-12.84, 11.03], "range": [24.3, 318.3], "nice": false, "zero": false}, "axis": {"title": "Residuals of Catch a Cloud Correct Responses", "values": [-10, -5, 0, 5, 10], "format": "d", "offset": -20}},
       "y": {"field": "y", "type": "quantitative", "scale": {"domain": [-24.9, 34.4], "range": [178, 16], "nice": false, "zero": false}, "axis": {"title": "Residuals of TMT A Time", "values": [-20, 0, 20], "format": "d", "offset": -24.3}}}},
     {"data": {"name": "F1band"}, "mark": {"type": "area", "color": "#999999", "opacity": 0.45}, "encoding": {"x": {"field": "x", "type": "quantitative"}, "y": {"field": "lo", "type": "quantitative"}, "y2": {"field": "hi"}}},
     {"data": {"name": "F1band"}, "mark": {"type": "line", "color": "#3535e8", "strokeWidth": 1.3}, "encoding": {"x": {"field": "x", "type": "quantitative"}, "y": {"field": "fit", "type": "quantitative"}}},
     {"data": {"values": [{"label": "Spearman's ρ = -0.32"}]}, "mark": {"type": "text", "fontSize": 6.8, "color": "#333333"}, "encoding": {"x": {"datum": 7.43, "type": "quantitative"}, "y": {"datum": 26.8, "type": "quantitative"}, "text": {"field": "label"}}}
    ]},
   {"width": 323, "height": 198,
    "title": {"text": "Partial Spearman Correlation: SDMT and Catch a Cloud (Adaptive Mode)", "anchor": "start", "frame": "group", "dx": 22.7, "offset": -19, "baseline": "alphabetic", "fontSize": 8.3},
    "layer": [
     {"data": {"name": "F2"}, "mark": {"type": "circle", "size": 7, "color": "#2b2b2b", "opacity": 1},
      "encoding": {
       "x": {"field": "x", "type": "quantitative", "scale": {"domain": [-12.65, 11.04], "range": [22.7, 320], "nice": false, "zero": false}, "axis": {"title": "Residuals of Catch a Cloud Correct Responses", "values": [-10, -5, 0, 5, 10], "format": "d", "offset": -20}},
       "y": {"field": "y", "type": "quantitative", "scale": {"domain": [-31.8, 43], "range": [178, 14.3], "nice": false, "zero": false}, "axis": {"title": "Residuals of SDMT Score", "values": [-20, 0, 20, 40], "format": "d", "offset": -22.7}}}},
     {"data": {"name": "F2band"}, "mark": {"type": "area", "color": "#999999", "opacity": 0.45}, "encoding": {"x": {"field": "x", "type": "quantitative"}, "y": {"field": "lo", "type": "quantitative"}, "y2": {"field": "hi"}}},
     {"data": {"name": "F2band"}, "mark": {"type": "line", "color": "#3535e8", "strokeWidth": 1.3}, "encoding": {"x": {"field": "x", "type": "quantitative"}, "y": {"field": "fit", "type": "quantitative"}}},
     {"data": {"values": [{"label": "Spearman's ρ = 0.45"}]}, "mark": {"type": "text", "fontSize": 6.8, "color": "#333333"}, "encoding": {"x": {"datum": -9.1, "type": "quantitative"}, "y": {"datum": 21.7, "type": "quantitative"}, "text": {"field": "label"}}}
    ]}
 ], "spacing": 15, "title": {"text": "(F)", "orient": "bottom", "anchor": "middle", "offset": 14, "baseline": "top", "fontSize": 15, "color": "#000000"}}
]
}
